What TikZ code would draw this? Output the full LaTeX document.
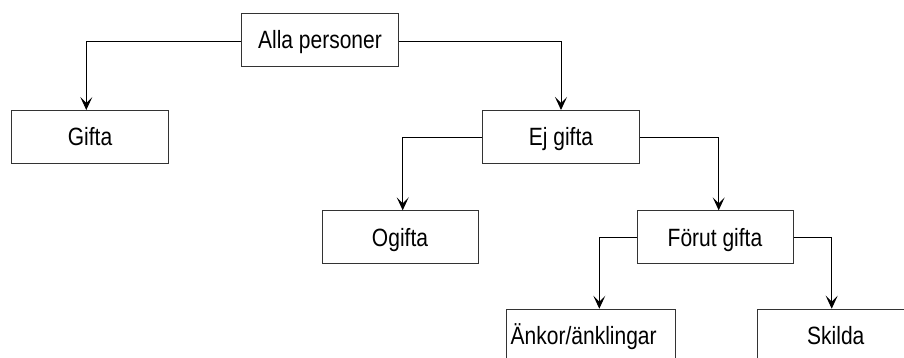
\documentclass[tikz,border=0pt]{standalone}
\usepackage{fontspec}
\setmainfont{Liberation Sans}
\usetikzlibrary{arrows.meta}
\newcommand{\narrowtxt}[1]{\scalebox{0.84}[1]{#1}}
\begin{document}
\begin{tikzpicture}[x=1pt,y=-1pt,
  box/.style={draw=black!80, line width=1pt, minimum height=53pt, minimum width=157pt,
    inner sep=0pt, text height=17.5pt, text depth=0pt,
    font=\fontsize{25}{29}\selectfont},
  conn/.style={draw=black, line width=1pt, -{Stealth[length=13pt,width=12pt,inset=6pt]}}]
\useasboundingbox (0,0) rectangle (904,357);
\fill[white] (0,0) rectangle (904,357);
\clip (0,0) rectangle (904,357);
\node[box] (alla) at (320,39.5) {\narrowtxt{Alla personer}};
\node[box] (gifta) at (90,137) {\narrowtxt{Gifta}};
\node[box] (ej) at (561,137) {\narrowtxt{Ej gifta}};
\node[box, minimum width=156pt] (ogifta) at (400,237.3) {\narrowtxt{Ogifta}};
\node[box, minimum width=156pt] (forut) at (715,237.3) {\narrowtxt{Förut gifta}};
\node[box, minimum width=169pt, text width=161pt, align=left] (ankor) at (591.2,335.7) {\narrowtxt{Änkor/änklingar}};
\node[box] (skilda) at (835.8,335.7) {\narrowtxt{Skilda}};
\draw[conn] ([yshift=-2.2pt]alla.west) -| ([xshift=-3.7pt]gifta.north);
\draw[conn] ([yshift=-2.2pt]alla.east) -| (ej.north);
\draw[conn] (ej.west) -| ([xshift=2.7pt]ogifta.north);
\draw[conn] (ej.east) -| ([xshift=3.7pt]forut.north);
\draw[conn] ([yshift=-0.6pt]forut.west) -| ([xshift=8.1pt]ankor.north);
\draw[conn] ([yshift=-0.6pt]forut.east) -| ([xshift=-4.1pt]skilda.north);
\end{tikzpicture}
\end{document}
